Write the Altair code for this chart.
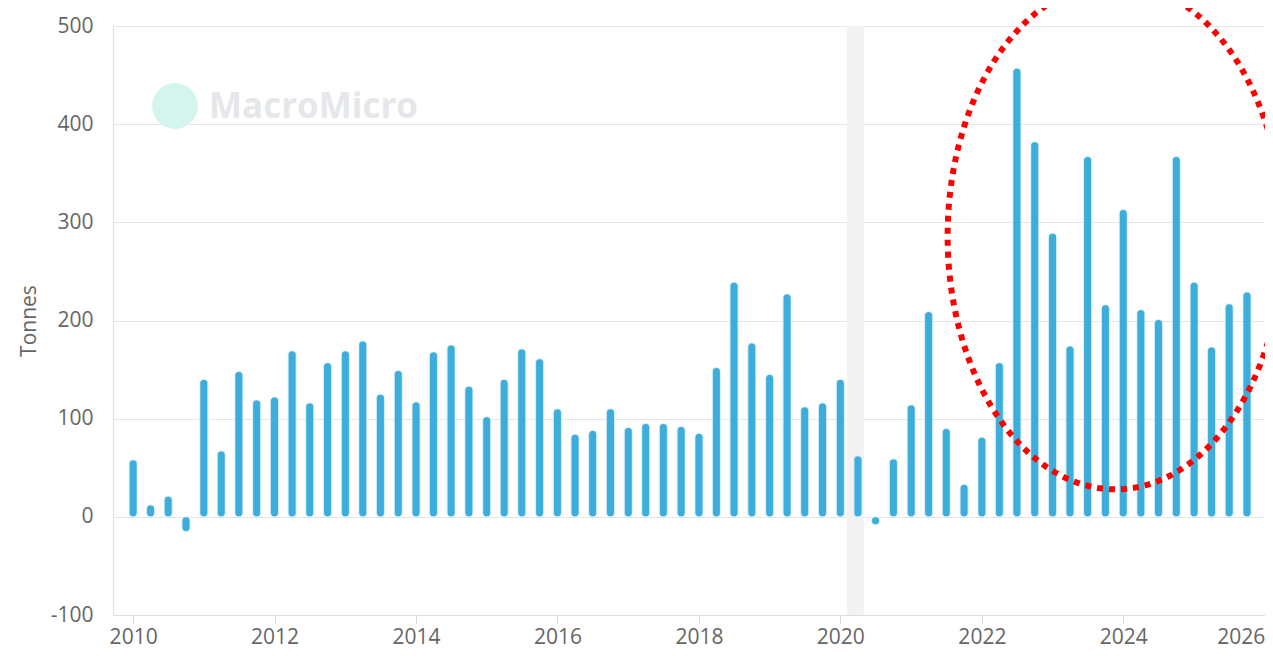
import altair as alt
import pandas as pd
import numpy as np

# Quarterly values (tonnes), 2010 Q1 .. 2025 Q4
quarters = pd.date_range("2010-01-01", "2025-10-01", freq="QS").strftime("%Y-%m-%d").tolist()
values = [58, 12, 21, -15,
          140, 67, 148, 119,
          122, 169, 116, 157,
          169, 179, 125, 149,
          117, 168, 175, 133,
          102, 140, 171, 161,
          110, 84, 88, 110,
          91, 95, 95, 92,
          85, 152, 239, 177,
          145, 227, 112, 116,
          140, 62, -8, 59,
          114, 209, 90, 33,
          81, 157, 457, 382,
          289, 174, 367, 216,
          313, 211, 201, 367,
          239, 173, 217, 229]

band_start = ["2020-02-05"]
band_end = ["2020-05-01"]

# Annotation ellipse (data units): center date, center value, half-widths
ell_center_date = "2023-11-22"
ell_center_val = 286
ell_rx_days = 867
ell_ry_val = 258

y_ticks = [-100, 0, 100, 200, 300, 400, 500]
x_ticks = ["2010-01-01", "2012-01-01", "2014-01-01", "2016-01-01", "2018-01-01",
           "2020-01-01", "2022-01-01", "2024-01-01", "2026-01-01"]

df = pd.DataFrame({"date": quarters, "value": values})
band = pd.DataFrame({"start": band_start, "end": band_end})

t = np.linspace(0, 2 * np.pi, 241)
c = pd.Timestamp(ell_center_date)
ell = pd.DataFrame({
    "i": np.arange(len(t)),
    "date": [(c + pd.Timedelta(days=float(ell_rx_days * np.cos(a)))).strftime("%Y-%m-%dT%H:%M:%S") for a in t],
    "value": ell_center_val + ell_ry_val * np.sin(t),
})

FONT = "Open Sans"
GREY = "#666666"

x_scale = alt.Scale(domain=["2009-09-19", "2026-01-02"], padding=0, nice=False)
y_scale = alt.Scale(domain=[-100, 500], nice=False, zero=False, padding=0)

x_enc_axis = alt.Axis(
    values=x_ticks, format="%Y", labelFontSize=21, labelColor=GREY, labelFont=FONT,
    tickColor="#d8d8d8", tickSize=8, domainColor="#dddddd", grid=False, labelPadding=3,
    title=None, labelFlush=6,
)
y_enc_axis = alt.Axis(
    values=y_ticks, labelFontSize=21, labelColor=GREY, labelFont=FONT, ticks=False,
    domain=False, gridColor="#e6e6e6", labelPadding=20, labelExpr="'' + datum.value",
    title="Tonnes", titleFontSize=21, titleFont=FONT, titleColor=GREY,
    titleFontWeight="normal", titlePadding=11,
)

band_layer = alt.Chart(band).mark_rect(color="#f2f2f2").encode(
    x=alt.X("start:T", scale=x_scale, axis=x_enc_axis),
    x2="end:T",
    y=alt.value(0),
    y2=alt.value(589),
)

bars = alt.Chart(df).mark_bar(
    color="#3daedb", width=8, cornerRadius=4, stroke="#bfe4f3", strokeWidth=0.6
).encode(
    x=alt.X("date:T", scale=x_scale, axis=x_enc_axis),
    y=alt.Y("value:Q", scale=y_scale, axis=y_enc_axis),
)

ellipse = alt.Chart(ell).mark_line(
    color="#ff0000", strokeWidth=6, strokeDash=[6, 6], clip=False
).encode(
    x=alt.X("date:T", scale=x_scale),
    y=alt.Y("value:Q", scale=y_scale),
    order="i:Q",
)

wm_circle = alt.Chart(pd.DataFrame({"k": [0]})).mark_circle(
    color="#d4f5ee", opacity=1, size=2100
).encode(x=alt.value(62), y=alt.value(80))

wm_text = alt.Chart(pd.DataFrame({"label": ["MacroMicro"]})).mark_text(
    color="#e6e7ea", fontSize=35, font=FONT, fontWeight="bold", align="left", baseline="middle"
).encode(x=alt.value(96), y=alt.value(81), text="label:N")

chart = alt.layer(band_layer, wm_circle, wm_text, bars, ellipse).properties(
    width=1152, height=589, autosize=alt.AutoSizeParams(type="none"),
    padding={"left": 105, "top": 18, "right": 0, "bottom": 35},
).configure_view(stroke=None).configure(background="white")

chart.save("out.html", embed_options={"renderer": "svg", "actions": False})
